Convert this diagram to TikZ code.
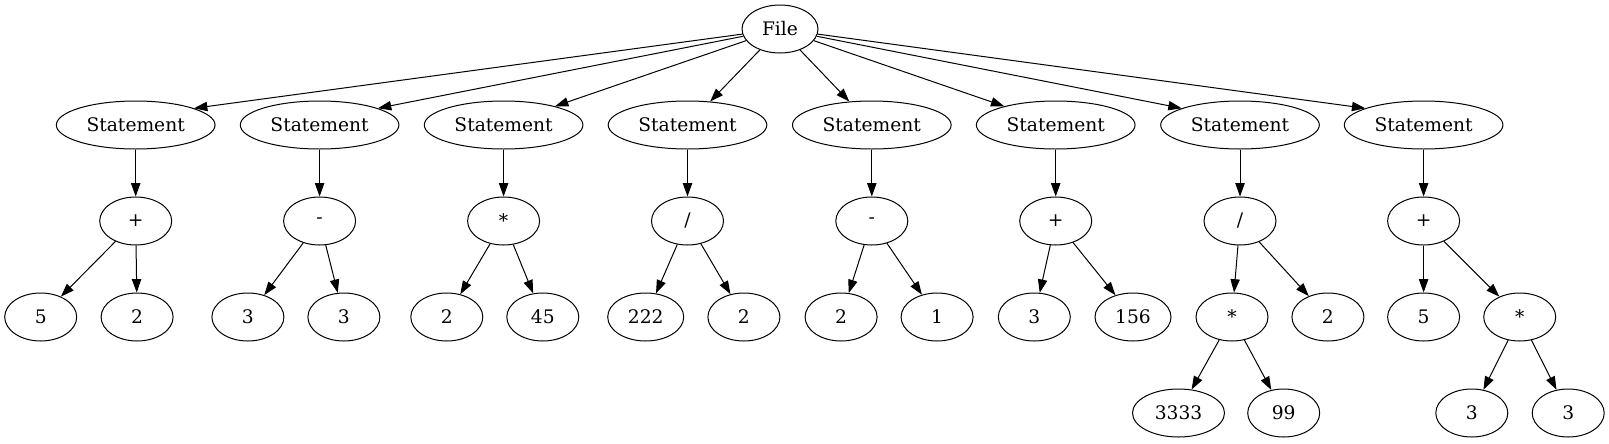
\documentclass[tikz,border=0pt]{standalone}
\usepackage{fontspec}
\setmainfont{DejaVu Serif}
\usetikzlibrary{shapes.geometric,arrows.meta}

\begin{document}
\begin{tikzpicture}[x=0.75pt, y=-0.75pt,
        tree/.style = {draw, ellipse, line width = 0.75pt, inner sep = 0pt,
            minimum width = 54pt, minimum height = 36pt,
            font = \fontsize{14}{16}\selectfont},
        stmt/.style = {tree, minimum width = 119pt},
        edge/.style = {line width = 0.75pt, -{Triangle[length = 10pt, width = 7pt]}}]
    \useasboundingbox (0,0) rectangle (1609,443);

    \node[tree, minimum width = 57pt] (file) at (780,29) {File};

    \node[stmt] (st1) at (135.7,125) {Statement};
    \node[stmt] (st2) at (319.6,125) {Statement};
    \node[stmt] (st3) at (503.6,125) {Statement};
    \node[stmt] (st4) at (687.5,125) {Statement};
    \node[stmt] (st5) at (871.8,125) {Statement};
    \node[stmt] (st6) at (1055.7,125) {Statement};
    \node[stmt] (st7) at (1240,125) {Statement};
    \node[stmt] (st8) at (1423.6,125) {Statement};

    \node[tree] (op1) at (135.7,221) {+};
    \node[tree] (op2) at (319.6,221) {-};
    \node[tree] (op3) at (503.6,221) {*};
    \node[tree] (op4) at (687.5,221) {/};
    \node[tree] (op5) at (871.8,221) {-};
    \node[tree] (op6) at (1055.7,221) {+};
    \node[tree] (op7) at (1240,221) {/};
    \node[tree] (op8) at (1423.6,221) {+};

    \node[tree] (a1) at (40.7,317) {5};
    \node[tree] (b1) at (137.1,317) {2};
    \node[tree] (a2) at (247.9,317) {3};
    \node[tree] (b2) at (343.9,317) {3};
    \node[tree] (a3) at (446.8,317) {2};
    \node[tree] (b3) at (542.8,317) {45};
    \node[tree, minimum width = 57pt] (a4) at (645.7,317) {222};
    \node[tree] (b4) at (743.9,317) {2};
    \node[tree] (a5) at (841.1,317) {2};
    \node[tree] (b5) at (937.1,317) {1};
    \node[tree] (a6) at (1034.3,317) {3};
    \node[tree, minimum width = 57pt] (b6) at (1133,317) {156};
    \node[tree] (a7) at (1232,317) {*};
    \node[tree] (b7) at (1327.9,317) {2};
    \node[tree] (a8) at (1423.6,317) {5};
    \node[tree] (b8) at (1519.7,317) {*};

    \node[tree, minimum width = 69pt] (c7) at (1178.5,413) {3333};
    \node[tree] (d7) at (1283.7,413) {99};
    \node[tree] (c8) at (1471.8,413) {3};
    \node[tree] (d8) at (1568.2,413) {3};

    % file to statements
    \draw[edge] (file) -- (st1.16);
    \draw[edge] (file) -- (st2.16);
    \draw[edge] (file) -- (st3.20);
    \draw[edge] (file) -- (st4);
    \draw[edge] (file) -- (st5);
    \draw[edge] (file) -- (st6.160);
    \draw[edge] (file) -- (st7.164);
    \draw[edge] (file) -- (st8.164);

    % statements to operators
    \draw[edge] (st1) -- (op1);
    \draw[edge] (st2) -- (op2);
    \draw[edge] (st3) -- (op3);
    \draw[edge] (st4) -- (op4);
    \draw[edge] (st5) -- (op5);
    \draw[edge] (st6) -- (op6);
    \draw[edge] (st7) -- (op7);
    \draw[edge] (st8) -- (op8);

    % operands
    \draw[edge] (op1) -- (a1);
    \draw[edge] (op1) -- (b1);
    \draw[edge] (op2) -- (a2);
    \draw[edge] (op2) -- (b2);
    \draw[edge] (op3) -- (a3);
    \draw[edge] (op3) -- (b3);
    \draw[edge] (op4) -- (a4);
    \draw[edge] (op4) -- (b4);
    \draw[edge] (op5) -- (a5);
    \draw[edge] (op5) -- (b5);
    \draw[edge] (op6) -- (a6);
    \draw[edge] (op6) -- (b6);
    \draw[edge] (op7) -- (a7);
    \draw[edge] (op7) -- (b7);
    \draw[edge] (op8) -- (a8);
    \draw[edge] (op8) -- (b8);

    \draw[edge] (a7) -- (c7);
    \draw[edge] (a7) -- (d7);
    \draw[edge] (b8) -- (c8);
    \draw[edge] (b8) -- (d8);
\end{tikzpicture}
\end{document}
